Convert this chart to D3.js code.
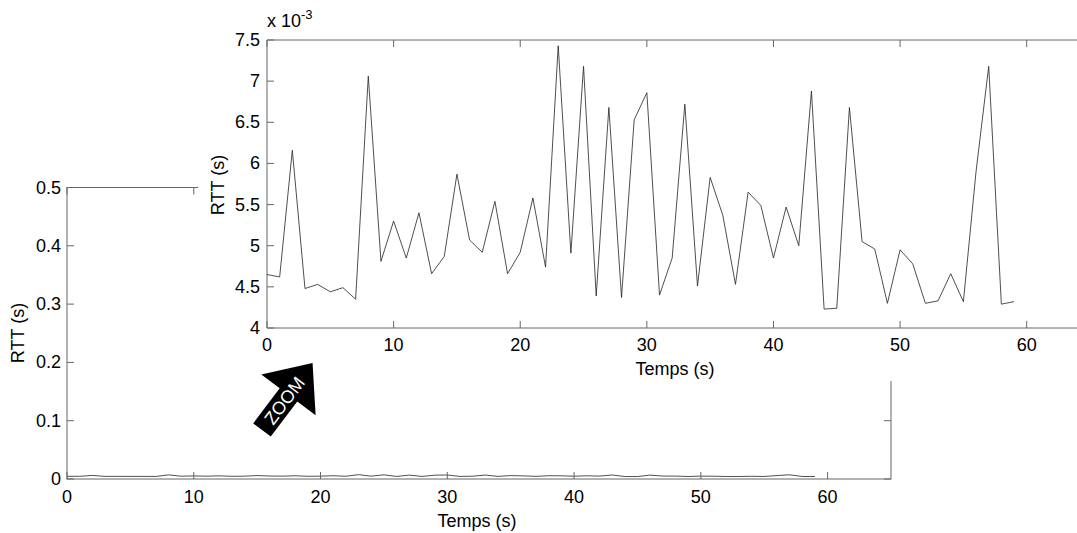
<!DOCTYPE html>
<html>
<head>
<meta charset="utf-8">
<script src="https://cdn.jsdelivr.net/npm/d3@7"></script>
<style>
  body { margin: 0; background: #fff; }
  svg { display: block; font-family: "Liberation Sans", Arial, sans-serif; }
</style>
</head>
<body>
<div class="viz"></div>
<script>
// RTT samples, one per second (ms scale, shown as x 10^-3 s in the zoom)
const times = d3.range(0, 60);
const rttMs = [4.65, 4.62, 6.16, 4.48, 4.53, 4.44, 4.49, 4.35, 7.06, 4.81,
               5.30, 4.85, 5.40, 4.66, 4.87, 5.87, 5.07, 4.92, 5.54, 4.66,
               4.92, 5.58, 4.74, 7.43, 4.91, 7.18, 4.39, 6.68, 4.37, 6.53,
               6.86, 4.40, 4.85, 6.72, 4.51, 5.83, 5.37, 4.53, 5.65, 5.49,
               4.85, 5.47, 5.00, 6.88, 4.23, 4.24, 6.68, 5.05, 4.96, 4.30,
               4.95, 4.78, 4.30, 4.33, 4.66, 4.32, 5.90, 7.18, 4.29, 4.32];
const mainYTicks = [0, 0.1, 0.2, 0.3, 0.4, 0.5];
const mainXTicks = [0, 10, 20, 30, 40, 50, 60];
const zoomYTicks = [4, 4.5, 5, 5.5, 6, 6.5, 7, 7.5];
const zoomXTicks = [0, 10, 20, 30, 40, 50, 60];

const W = 1077, H = 533;
const axisCol = '#666', lineCol = '#222', fs = 18, tk = 7;

const svg = d3.select('.viz').append('svg')
    .attr('width', W).attr('height', H);

// ---- main (full scale) plot ----
const mx = d3.scaleLinear().domain([0, 65]).range([67, 891]);
const my = d3.scaleLinear().domain([0, 0.5]).range([479, 187.5]);
const main = svg.append('g');

main.append('path')
    .datum(times)
    .attr('fill', 'none').attr('stroke', lineCol).attr('stroke-width', 0.8)
    .attr('d', d3.line().x(t => mx(t)).y((t, i) => my(rttMs[i] / 1000)));

main.append('rect')
    .attr('x', mx(0)).attr('y', my(0.5))
    .attr('width', mx(65) - mx(0)).attr('height', my(0) - my(0.5))
    .attr('fill', 'none').attr('stroke', axisCol);

main.selectAll('.xt').data(mainXTicks).enter().append('path')
    .attr('stroke', axisCol)
    .attr('d', d => `M${mx(d)},${my(0)}v${-tk}M${mx(d)},${my(0.5)}v${tk}`);
main.selectAll('.yt').data(mainYTicks).enter().append('path')
    .attr('stroke', axisCol)
    .attr('d', d => `M${mx(0)},${my(d)}h${tk}M${mx(65)},${my(d)}h${-tk}`);

main.selectAll('.xl').data(mainXTicks).enter().append('text')
    .attr('x', d => mx(d)).attr('y', 503).attr('text-anchor', 'middle')
    .attr('font-size', fs).text(d => d);
main.selectAll('.yl').data(mainYTicks).enter().append('text')
    .attr('x', 61).attr('y', d => my(d) + 6).attr('text-anchor', 'end')
    .attr('font-size', fs).text(d => d);
main.append('text').attr('x', 477).attr('y', 527).attr('text-anchor', 'middle')
    .attr('font-size', fs).text('Temps (s)');
main.append('text').attr('transform', 'translate(24,333) rotate(-90)')
    .attr('text-anchor', 'middle').attr('font-size', fs).text('RTT (s)');

// ---- zoomed inset ----
svg.append('rect').attr('x', 198).attr('y', 0)
    .attr('width', W - 198).attr('height', 381).attr('fill', '#fff');

const zx = d3.scaleLinear().domain([0, 65]).range([267, 1090]);
const zy = d3.scaleLinear().domain([4, 7.5]).range([328, 40]);
const zoom = svg.append('g');

zoom.append('path')
    .attr('stroke', axisCol).attr('fill', 'none')
    .attr('d', `M${zx(65)},${zy(7.5)}H${zx(0)}V${zy(4)}H${zx(65)}`);
zoom.selectAll('.xt').data(zoomXTicks).enter().append('path')
    .attr('stroke', axisCol)
    .attr('d', d => `M${zx(d)},${zy(4)}v${-tk}M${zx(d)},${zy(7.5)}v${tk}`);
zoom.selectAll('.yt').data(zoomYTicks).enter().append('path')
    .attr('stroke', axisCol)
    .attr('d', d => `M${zx(0)},${zy(d)}h${tk}`);

zoom.append('path')
    .datum(times)
    .attr('fill', 'none').attr('stroke', lineCol).attr('stroke-width', 0.8)
    .attr('d', d3.line().x(t => zx(t)).y((t, i) => zy(rttMs[i])));

zoom.selectAll('.xl').data(zoomXTicks).enter().append('text')
    .attr('x', d => zx(d)).attr('y', 351).attr('text-anchor', 'middle')
    .attr('font-size', fs).text(d => d);
zoom.selectAll('.yl').data(zoomYTicks).enter().append('text')
    .attr('x', 260).attr('y', d => zy(d) + 6).attr('text-anchor', 'end')
    .attr('font-size', fs).text(d => d);
zoom.append('text').attr('x', 675).attr('y', 375).attr('text-anchor', 'middle')
    .attr('font-size', fs).text('Temps (s)');
zoom.append('text').attr('transform', 'translate(224,185) rotate(-90)')
    .attr('text-anchor', 'middle').attr('font-size', fs).text('RTT (s)');
const ex = zoom.append('text').attr('x', 267).attr('y', 27).attr('font-size', fs);
ex.append('tspan').text('x 10');
ex.append('tspan').attr('dy', -8).attr('font-size', 13).text('-3');

// ---- "ZOOM" arrow ----
const arrow = svg.append('g')
    .attr('transform', 'translate(262,430) rotate(-53)');
arrow.append('path')
    .attr('fill', '#000')
    .attr('d', 'M0,-11L44,-11L44,-34L84,0L44,34L44,11L0,11Z');
arrow.append('text')
    .attr('x', 37).attr('y', 6.5).attr('text-anchor', 'middle')
    .attr('fill', '#fff').attr('font-size', 18).text('ZOOM');
</script>
</body>
</html>
